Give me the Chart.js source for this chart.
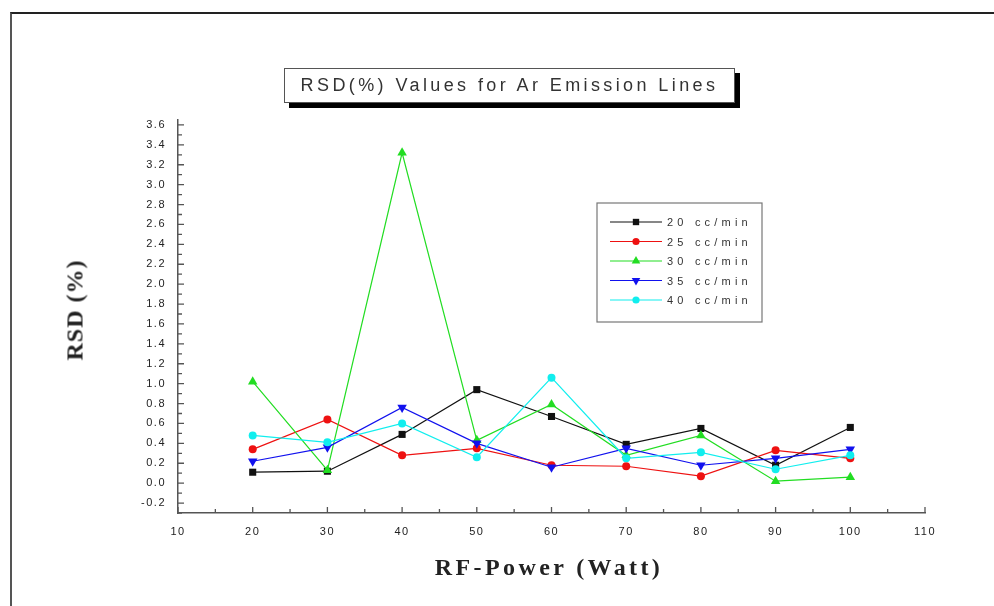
<!DOCTYPE html>
<html>
<head>
<meta charset="utf-8">
<title>RSD(%) Values for Ar Emission Lines</title>
<script src="https://cdn.jsdelivr.net/npm/chart.js@4.4.0/dist/chart.umd.min.js"></script>
<style>
    body { margin: 0; background: #fff; }
    #wrap { position: relative; width: 994px; height: 606px; overflow: hidden; }
    #frame {
        position: absolute; left: 10px; top: 12px; width: 990px; height: 600px;
        border-top: 2px solid #222; border-left: 2px solid #555;
    }
    #chartTitle {
        position: absolute; left: 284px; top: 68px; width: 449px; height: 33px;
        border: 1px solid #555; background: #fff; box-shadow: 5px 5px 0 #000;
        font: 18px "Liberation Sans", Arial, sans-serif; letter-spacing: 3.4px;
        color: #333; text-align: center; line-height: 33px;
    }
    .axisTitle {
        position: absolute; font: bold 24px "Liberation Serif", "Times New Roman", serif;
        color: #222; white-space: nowrap;
    }
    #yTitle { left: 75px; top: 310px; transform: translate(-50%, -50%) rotate(-90deg); letter-spacing: 1px; }
    #xTitle { left: 549px; top: 567px; transform: translate(-50%, -50%); letter-spacing: 3.4px; }
    canvas { position: absolute; left: 0; top: 0; }
</style>
</head>
<body>
<div id="wrap">
    <div id="frame"></div>
    <canvas id="rsdChart" width="994" height="606"></canvas>
    <div id="chartTitle">RSD(%) Values for Ar Emission Lines</div>
    <div class="axisTitle" id="yTitle">RSD (%)</div>
    <div class="axisTitle" id="xTitle">RF-Power (Watt)</div>
</div>

<script>
// RF power (Watt)
const rfPower = [20, 30, 40, 50, 60, 70, 80, 90, 100];

// RSD (%) per argon flow rate
const rsd20 = [0.11, 0.12, 0.49, 0.94, 0.67, 0.39, 0.55, 0.18, 0.56];
const rsd25 = [0.34, 0.64, 0.28, 0.35, 0.18, 0.17, 0.07, 0.33, 0.25];
const rsd30 = [1.02, 0.13, 3.32, 0.43, 0.79, 0.28, 0.48, 0.02, 0.06];
const rsd35 = [0.22, 0.36, 0.76, 0.40, 0.16, 0.35, 0.18, 0.25, 0.34];
const rsd40 = [0.48, 0.41, 0.60, 0.26, 1.06, 0.25, 0.31, 0.14, 0.28];

const seriesLabels = ['20 cc/min', '25 cc/min', '30 cc/min', '35 cc/min', '40 cc/min'];

// axis ranges / tick labels
const xMin = 10, xMax = 110;
const xTicks = [10, 20, 30, 40, 50, 60, 70, 80, 90, 100, 110];
const yMin = -0.3, yMax = 3.65;
const yTicks = [-0.2, 0.0, 0.2, 0.4, 0.6, 0.8, 1.0, 1.2, 1.4, 1.6, 1.8, 2.0,
                2.2, 2.4, 2.6, 2.8, 3.0, 3.2, 3.4, 3.6];

function toPoints(values) {
    return rfPower.map((x, i) => ({ x: x, y: values[i] }));
}

function makeSeries(label, values, color, style, radius, rotation, order) {
    return {
        label: label,
        data: toPoints(values),
        borderColor: color,
        backgroundColor: color,
        borderWidth: 1.2,
        pointStyle: style,
        pointRadius: radius,
        pointRotation: rotation,
        pointBorderWidth: 0,
        order: order
    };
}

const datasets = [
    makeSeries(seriesLabels[0], rsd20, '#111111', 'rect', 5, 0, 5),
    makeSeries(seriesLabels[1], rsd25, '#ee1111', 'circle', 4, 0, 4),
    makeSeries(seriesLabels[2], rsd30, '#22dd22', 'triangle', 5.5, 0, 3),
    makeSeries(seriesLabels[3], rsd35, '#1111ee', 'triangle', 5.5, 180, 2),
    makeSeries(seriesLabels[4], rsd40, '#11eeee', 'circle', 4, 0, 1)
];

// spaced-out canvas text like the original plot
const letterSpacingPlugin = {
    id: 'letterSpacing',
    beforeDraw(chart) { chart.ctx.letterSpacing = '1.5px'; }
};

// inward major/minor tick marks (minor halfway between labelled ones)
const innerTicksPlugin = {
    id: 'innerTicks',
    afterDraw(chart) {
        const ctx = chart.ctx;
        const xs = chart.scales.x, ys = chart.scales.y;
        const area = chart.chartArea;
        ctx.save();
        ctx.strokeStyle = '#555';
        ctx.lineWidth = 1.3;
        ctx.beginPath();
        xTicks.forEach((v, i) => {
            let px = xs.getPixelForValue(v);
            ctx.moveTo(px, area.bottom);
            ctx.lineTo(px, area.bottom - 6);
            if (i < xTicks.length - 1) {
                px = xs.getPixelForValue((v + xTicks[i + 1]) / 2);
                ctx.moveTo(px, area.bottom);
                ctx.lineTo(px, area.bottom - 4);
            }
        });
        [yMin].concat(yTicks).forEach((v, i, arr) => {
            let py = ys.getPixelForValue(v);
            if (i > 0) {
                ctx.moveTo(area.left, py);
                ctx.lineTo(area.left + 6, py);
            }
            if (i < arr.length - 1) {
                py = ys.getPixelForValue(i === 0 ? -0.3 : (v + arr[i + 1]) / 2);
                ctx.moveTo(area.left, py);
                ctx.lineTo(area.left + 4, py);
            }
        });
        ctx.stroke();
        ctx.restore();
    }
};

// boxed legend in the upper right of the plot
const boxLegendPlugin = {
    id: 'boxLegend',
    afterDraw(chart) {
        const ctx = chart.ctx;
        const area = chart.chartArea;
        const left = area.left + 419, top = area.top + 83;
        const w = 165, h = 119, rowH = 19.5;
        ctx.save();
        ctx.fillStyle = '#fff';
        ctx.fillRect(left, top, w, h);
        ctx.strokeStyle = '#777';
        ctx.lineWidth = 1.2;
        ctx.strokeRect(left, top, w, h);
        ctx.font = '11px "Liberation Sans", Arial, sans-serif';
        ctx.letterSpacing = '4.2px';
        ctx.textBaseline = 'middle';
        chart.data.datasets.forEach((ds, i) => {
            const y = top + 19 + i * rowH;
            ctx.strokeStyle = ds.borderColor;
            ctx.lineWidth = 1.2;
            ctx.beginPath();
            ctx.moveTo(left + 13, y);
            ctx.lineTo(left + 65, y);
            ctx.stroke();
            ctx.fillStyle = ds.backgroundColor;
            Chart.helpers.drawPoint(ctx, {
                pointStyle: ds.pointStyle,
                radius: ds.pointRadius * 0.9,
                rotation: ds.pointRotation,
                borderWidth: 0
            }, left + 39, y);
            ctx.fillStyle = '#333';
            ctx.fillText(ds.label, left + 70, y + 1);
        });
        ctx.restore();
    }
};

const tickFont = { family: '"Liberation Sans", Arial, sans-serif', size: 11 };

new Chart(document.getElementById('rsdChart').getContext('2d'), {
    type: 'line',
    data: { datasets: datasets },
    options: {
        responsive: false,
        animation: false,
        layout: { padding: { top: 120, right: 69, left: 0, bottom: 0 } },
        plugins: {
            legend: { display: false },
            title: { display: false },
            tooltip: { enabled: false }
        },
        scales: {
            x: {
                type: 'linear',
                min: xMin,
                max: xMax,
                grid: { display: false, drawTicks: false },
                border: { display: true, color: '#555', width: 1.5 },
                ticks: { padding: 12, color: '#222', font: tickFont, maxRotation: 0, autoSkip: false },
                afterBuildTicks(scale) { scale.ticks = xTicks.map(v => ({ value: v })); },
                afterFit(scale) { scale.height = 93; }
            },
            y: {
                min: yMin,
                max: yMax,
                grid: { display: false, drawTicks: false },
                border: { display: true, color: '#555', width: 1.5 },
                ticks: {
                    autoSkip: false,
                    padding: 12,
                    color: '#222',
                    font: tickFont,
                    callback(v) { return v.toFixed(1); }
                },
                afterBuildTicks(scale) { scale.ticks = yTicks.map(v => ({ value: v })); },
                afterFit(scale) { scale.width = 178; }
            }
        }
    },
    plugins: [letterSpacingPlugin, innerTicksPlugin, boxLegendPlugin]
});
</script>
</body>
</html>
